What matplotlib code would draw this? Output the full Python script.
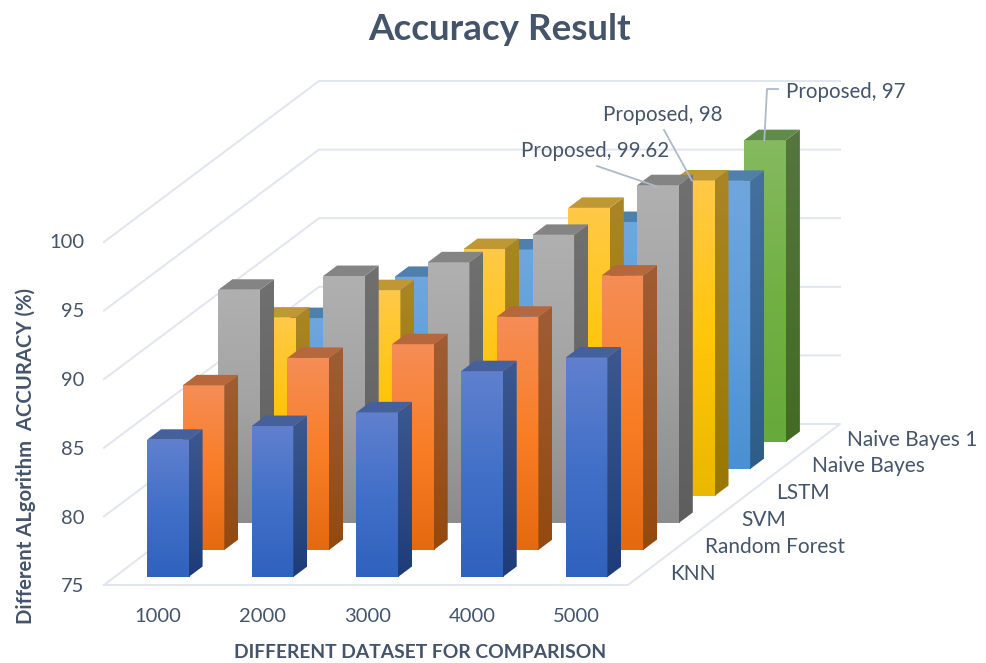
import numpy as np
import matplotlib
matplotlib.use('Agg')
import matplotlib.pyplot as plt
from matplotlib.colors import to_rgb
from matplotlib.patches import Polygon

plt.rcParams['font.family'] = ['Lato', 'DejaVu Sans']

# Chart values, back series last
datasets = ['1000', '2000', '3000', '4000', '5000']
algorithms = ['KNN', 'Random Forest', 'SVM', 'LSTM', 'Naive Bayes', 'Naive Bayes 1']
knn = [85, 86, 87, 90, 91]
random_forest = [87, 89, 90, 92, 95]
svm = [92, 93, 94, 96, 99.62]
lstm = [88, 90, 93, 96, 98]
naive_bayes = [86, 89, 91, 93, 96]
naive_bayes_1 = [85, 86, 87, 89, 97]
value_ticks = [75, 80, 85, 90, 95, 100]
all_series = [knn, random_forest, svm, lstm, naive_bayes, naive_bayes_1]

# front top, front middle, front bottom, side top, side bottom, top face
palette = [
    ('#6080CE', '#4270C8', '#2F62BE', '#3C5890', '#1E3D78', '#45609A'),
    ('#F58D56', '#F97E26', '#E4690F', '#A05C34', '#934A10', '#B7673C'),
    ('#B0B0B0', '#A3A3A3', '#8C8C8C', '#707070', '#5E5E5E', '#848484'),
    ('#FFC947', '#FFC60A', '#EBB800', '#A98526', '#9A7800', '#BF9833'),
    ('#70A6DE', '#5F9EDA', '#4A90D2', '#46709E', '#2E5D88', '#4F7FAB'),
    ('#85BA60', '#72B044', '#67A93A', '#55763F', '#426B24', '#5E8C48'),
]
text_color = '#44546A'
grid_color = '#E1E5EE'

# Oblique projection of the 3D column chart onto figure pixels
col_step = 104.7
depth_dx = 35.7
depth_dy = 27.0
unit = 13.72
bar_w = 41.6
side_dx = 14
side_dy = 10.5
first_x = 147
base_y = 577


def project(col, depth, value):
    x = first_x + col * col_step + depth * depth_dx
    y = base_y - depth * depth_dy - (value - value_ticks[0]) * unit
    return x, y


def gradient(ax, pts, stops, z):
    # vertical colour ramp clipped to a polygon
    pts = np.array(pts)
    rgb = np.array([to_rgb(c) for c in stops])
    pos = np.linspace(0, 1, len(stops))
    t = np.linspace(0, 1, 64)
    ramp = np.stack([np.interp(t, pos, rgb[:, i]) for i in range(3)], axis=1)[:, None, :]
    im = ax.imshow(ramp, extent=(pts[:, 0].min(), pts[:, 0].max(), pts[:, 1].max(), pts[:, 1].min()),
                   origin='upper', aspect='auto', interpolation='bilinear', zorder=z)
    clip = Polygon(pts, closed=True, transform=ax.transData, facecolor='none', edgecolor='none')
    ax.add_patch(clip)
    im.set_clip_path(clip)


fig = plt.figure(figsize=(9.87, 6.63), dpi=100)
ax = fig.add_axes([0, 0, 1, 1])

# Floor and walls
fl, fr, bl, br, wall_x, right_x = (104, 585), (628, 585), (316, 424), (840, 424), 319, 840
for i in range(len(value_ticks)):
    h = i * 68.6
    if i > 0:
        ax.plot([fl[0], wall_x, right_x], [fl[1] - h, bl[1] - h, bl[1] - h], color=grid_color, lw=1.4, zorder=1)
ax.plot([fl[0], fr[0], br[0], bl[0], fl[0]], [fl[1], fr[1], br[1], bl[1], fl[1]], color=grid_color, lw=1.4, zorder=1)

# Columns, painted from the back row forward
z = 2
for depth in range(len(all_series) - 1, -1, -1):
    colors = palette[depth]
    for col, value in enumerate(all_series[depth]):
        x0, y0 = project(col, depth, value_ticks[0])
        x1, y1 = project(col, depth, value)
        x2 = x0 + bar_w
        # the side face is painted over a small overlap so no seam shows
        gradient(ax, [(x0, y1), (x2 + 1, y1), (x2 + 1, y0), (x0, y0)], colors[:3], z)
        gradient(ax, [(x2, y1), (x2 + side_dx, y1 - side_dy), (x2 + side_dx, y0 - side_dy), (x2, y0)],
                 colors[3:5], z + 1)
        ax.add_patch(Polygon([(x0, y1), (x2, y1), (x2 + side_dx, y1 - side_dy), (x0 + side_dx, y1 - side_dy)],
                             closed=True, facecolor=colors[5], edgecolor='none', zorder=z + 2))
        z += 3

# Data label leaders
leader = '#ADB9CA'
svm_top = project(4, 2, svm[4])
lstm_top = project(4, 3, lstm[4])
nb1_top = project(4, 5, naive_bayes_1[4])
ax.plot([597, svm_top[0] + 19], [166, svm_top[1] + 1], color=leader, lw=1.3, zorder=z)
ax.plot([664, lstm_top[0] + 19], [130, lstm_top[1]], color=leader, lw=1.3, zorder=z)
ax.plot([778, 767, nb1_top[0] + 20], [89, 89, nb1_top[1]], color=leader, lw=1.3, zorder=z)
ax.text(521, 151, 'Proposed, %g' % svm[4], color=text_color, fontsize=14.8, va='center', ha='left', zorder=z)
ax.text(603, 115, 'Proposed, %g' % lstm[4], color=text_color, fontsize=14.8, va='center', ha='left', zorder=z)
ax.text(786, 92, 'Proposed, %g' % naive_bayes_1[4], color=text_color, fontsize=14.8, va='center', ha='left', zorder=z)

# Axis tick labels
for i, v in enumerate(value_ticks):
    ax.text(84, 587 - i * 68.8, str(v), color=text_color, fontsize=14.5, ha='right', va='center')
for i, name in enumerate(datasets):
    ax.text(158 + i * col_step, 616, name, color=text_color, fontsize=14.5, ha='center', va='center')
for i, name in enumerate(algorithms):
    ax.text(670 + i * 35.4, 574 - i * 26.9, name, color=text_color, fontsize=15, ha='left', va='center')

ax.text(500, 30, 'Accuracy Result', color=text_color, fontsize=26.5, fontweight='bold', ha='center', va='center')
ax.text(420.5, 653, 'DIFFERENT DATASET FOR COMPARISON', color=text_color, fontsize=13.9, fontweight='bold',
        ha='center', va='center')
ax.text(26, 456, 'Different ALgorithm  ACCURACY (%)', color=text_color, fontsize=14.6, fontweight='bold',
        rotation=90, ha='center', va='center')

ax.set_xlim(0, 987)
ax.set_ylim(663, 0)
ax.axis('off')
fig.savefig('out.png', dpi=100)
